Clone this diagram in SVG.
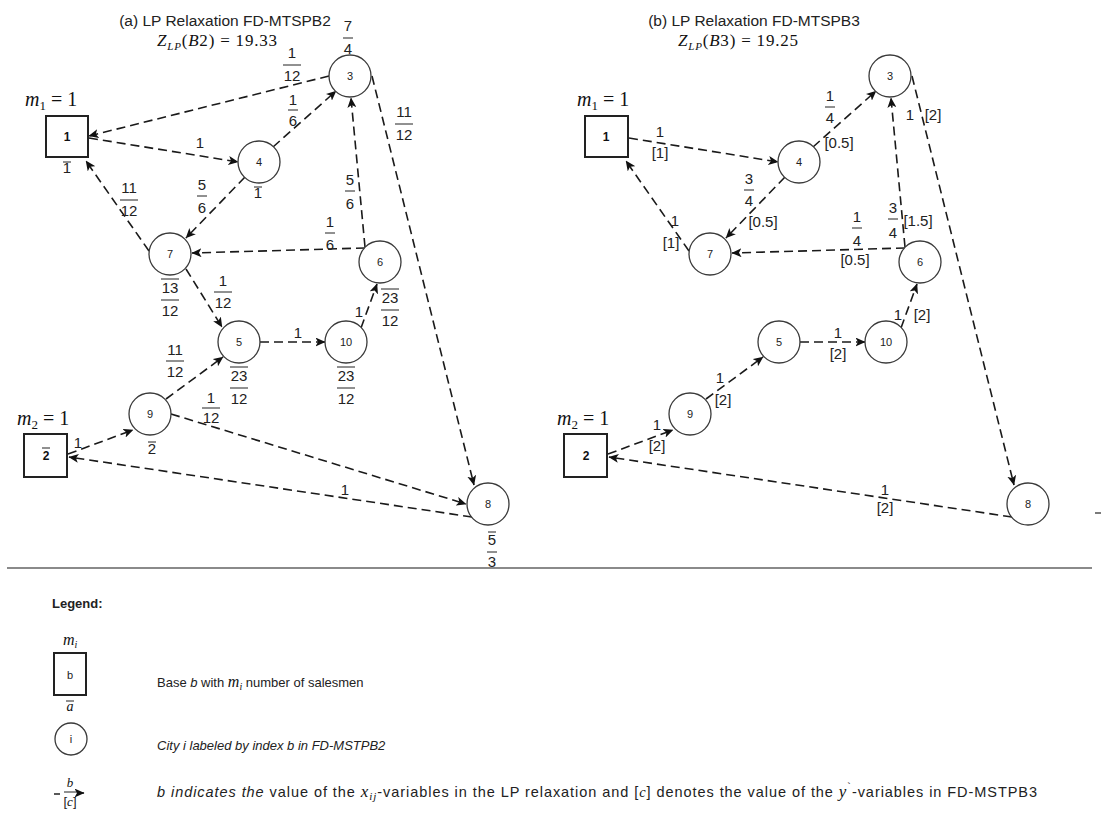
<svg xmlns="http://www.w3.org/2000/svg" width="1101" height="815" viewBox="0 0 1101 815">
<defs>
<marker id="arr" markerUnits="userSpaceOnUse" markerWidth="10" markerHeight="9" refX="9.5" refY="4.5" orient="auto">
<path d="M0,0 L10,4.5 L0,9 L2.5,4.5 z" fill="#111"/>
</marker>
<style>
.edge{fill:none;stroke:#1a1a1a;stroke-width:1.6;stroke-dasharray:9 5;marker-end:url(#arr)}
.city{fill:#fff;stroke:#3a3a3a;stroke-width:1.3}
.base{fill:#fff;stroke:#222;stroke-width:2}
.id{font-family:'Liberation Sans',Arial,sans-serif;font-size:11px;fill:#222;text-anchor:middle}
.bid{font-family:'Liberation Sans',Arial,sans-serif;font-size:12px;font-weight:bold;fill:#111;text-anchor:middle}
.v{font-family:'Liberation Sans',Arial,sans-serif;font-size:15px;fill:#222;text-anchor:middle}
.bar{stroke:#222;stroke-width:1}
.mt{font-family:'Liberation Serif','DejaVu Serif',serif;font-style:italic;fill:#111}
.up{font-style:normal}
.ttl{font-family:'Liberation Sans',Arial,sans-serif;font-size:15.5px;fill:#222;text-anchor:middle}
.lg{font-family:'Liberation Sans',Arial,sans-serif;font-size:13px;fill:#222}
.lg2{font-family:'Liberation Sans',Arial,sans-serif;font-size:14.5px;fill:#222}
.it{font-style:italic}
</style>
</defs>
<rect width="1101" height="815" fill="#fff"/>

<!-- ===== (a) LP relaxation, FD-MTSPB2 ===== -->
<g id="title-a">
<text class="ttl" x="225" y="26">(a) LP Relaxation FD-MTSPB2</text>
<text class="mt" x="157" y="46" font-size="17" letter-spacing="0.8">Z<tspan font-size="11" dy="4">LP</tspan><tspan dy="-4" class="up">(</tspan>B<tspan class="up">2) = 19.33</tspan></text>
</g>

<g id="a-connectors">
<path class="edge" d="M329,76 L89,136"/>
<path class="edge" d="M89,138 L238,162"/>
<path class="edge" d="M273,147 L336,91"/>
<path class="edge" d="M372,76 L474,485"/>
<path class="edge" d="M365,247 L351,98"/>
<path class="edge" d="M365,248 L192,253"/>
<path class="edge" d="M245,177 L186,238"/>
<path class="edge" d="M149,251 L86,161"/>
<path class="edge" d="M186,269 L222,327"/>
<path class="edge" d="M260,342 L325,342"/>
<path class="edge" d="M361,328 L377,284"/>
<path class="edge" d="M166,399 L223,357"/>
<path class="edge" d="M171,414 L466,504"/>
<path class="edge" d="M68,454 L133,430"/>
<path class="edge" d="M472,517 L69,457"/>
</g>

<g id="a-edge-labels">
<!-- 3 -> 1 -->
<text class="v" x="292" y="58">1</text><line class="bar" x1="283" y1="65" x2="301" y2="65"/><text class="v" x="292" y="81">12</text>
<!-- 1 -> 4 -->
<text class="v" x="200" y="148">1</text>
<!-- 4 -> 3 -->
<text class="v" x="293" y="105">1</text><line class="bar" x1="288" y1="110" x2="298" y2="110"/><text class="v" x="293" y="126">6</text>
<!-- 3 -> 8 -->
<text class="v" x="404" y="117">11</text><line class="bar" x1="395" y1="124" x2="413" y2="124"/><text class="v" x="404" y="140">12</text>
<!-- 6 -> 3 -->
<text class="v" x="350" y="185">5</text><line class="bar" x1="345" y1="191" x2="355" y2="191"/><text class="v" x="350" y="209">6</text>
<!-- 6 -> 7 -->
<text class="v" x="330" y="227">1</text><line class="bar" x1="325" y1="233" x2="335" y2="233"/><text class="v" x="330" y="250">6</text>
<!-- 4 -> 7 -->
<text class="v" x="202" y="190">5</text><line class="bar" x1="197" y1="196" x2="207" y2="196"/><text class="v" x="202" y="213">6</text>
<!-- 7 -> 1 -->
<text class="v" x="129" y="193">11</text><line class="bar" x1="120" y1="200" x2="138" y2="200"/><text class="v" x="129" y="216">12</text>
<!-- 7 -> 5 -->
<text class="v" x="223" y="286">1</text><line class="bar" x1="214" y1="292" x2="232" y2="292"/><text class="v" x="223" y="308">12</text>
<!-- 9 -> 5 -->
<text class="v" x="175" y="355">11</text><line class="bar" x1="166" y1="361" x2="184" y2="361"/><text class="v" x="175" y="377">12</text>
<!-- 5 -> 10 -->
<text class="v" x="298" y="338">1</text>
<!-- 10 -> 6 -->
<text class="v" x="359" y="317">1</text>
<!-- 9 -> 8 -->
<text class="v" x="211" y="403">1</text><line class="bar" x1="202" y1="408" x2="220" y2="408"/><text class="v" x="211" y="423">12</text>
<!-- 2 -> 9 -->
<text class="v" x="78" y="448">1</text>
<!-- 8 -> 2 -->
<text class="v" x="345" y="495">1</text>
</g>

<g id="a-base-1">
<text class="mt" x="25" y="106" font-size="20">m<tspan font-size="13" dy="4" class="up">1</tspan><tspan dy="-4" class="up"> = 1</tspan></text>
<rect class="base" x="46" y="116" width="42" height="41"/>
<text class="bid" x="67" y="141">1</text>
<text class="v" x="67" y="173">1</text><line class="bar" x1="63" y1="162" x2="71" y2="162"/>
</g>
<g id="a-base-2">
<text class="mt" x="17" y="425" font-size="20">m<tspan font-size="13" dy="4" class="up">2</tspan><tspan dy="-4" class="up"> = 1</tspan></text>
<rect class="base" x="24" y="434" width="43" height="43"/>
<text class="bid" x="46" y="460">2</text><line class="bar" x1="42" y1="448" x2="50" y2="448"/>
</g>
<g id="a-city-3">
<circle class="city" cx="350" cy="76" r="21"/><text class="id" x="350" y="80">3</text>
<text class="v" x="348" y="31">7</text><line class="bar" x1="343" y1="38" x2="353" y2="38"/><text class="v" x="348" y="54">4</text>
</g>
<g id="a-city-4">
<circle class="city" cx="259" cy="162" r="21"/><text class="id" x="259" y="166">4</text>
<text class="v" x="258" y="198">1</text><line class="bar" x1="254" y1="187" x2="262" y2="187"/>
</g>
<g id="a-city-7">
<circle class="city" cx="170" cy="254" r="21"/><text class="id" x="170" y="258">7</text>
<line class="bar" x1="161" y1="279" x2="179" y2="279"/>
<text class="v" x="170" y="293">13</text><line class="bar" x1="161" y1="300" x2="179" y2="300"/><text class="v" x="170" y="316">12</text>
</g>
<g id="a-city-6">
<circle class="city" cx="380" cy="262" r="21"/><text class="id" x="380" y="266">6</text>
<line class="bar" x1="381" y1="289" x2="399" y2="289"/>
<text class="v" x="390" y="303">23</text><line class="bar" x1="381" y1="310" x2="399" y2="310"/><text class="v" x="390" y="326">12</text>
</g>
<g id="a-city-5">
<circle class="city" cx="239" cy="342" r="21"/><text class="id" x="239" y="346">5</text>
<line class="bar" x1="230" y1="367" x2="248" y2="367"/>
<text class="v" x="239" y="381">23</text><line class="bar" x1="230" y1="388" x2="248" y2="388"/><text class="v" x="239" y="404">12</text>
</g>
<g id="a-city-10">
<circle class="city" cx="346" cy="342" r="21"/><text class="id" x="346" y="346">10</text>
<line class="bar" x1="337" y1="367" x2="355" y2="367"/>
<text class="v" x="346" y="381">23</text><line class="bar" x1="337" y1="388" x2="355" y2="388"/><text class="v" x="346" y="404">12</text>
</g>
<g id="a-city-9">
<circle class="city" cx="150" cy="414" r="21"/><text class="id" x="150" y="418">9</text>
<text class="v" x="152" y="454">2</text><line class="bar" x1="148" y1="442" x2="156" y2="442"/>
</g>
<g id="a-city-8">
<circle class="city" cx="488" cy="504" r="21"/><text class="id" x="488" y="508">8</text>
<line class="bar" x1="488" y1="532" x2="496" y2="532"/>
<text class="v" x="492" y="545">5</text><line class="bar" x1="487" y1="552" x2="497" y2="552"/><text class="v" x="492" y="567">3</text>
</g>

<!-- ===== (b) LP relaxation, FD-MTSPB3 ===== -->
<g id="title-b">
<text class="ttl" x="754" y="26">(b) LP Relaxation FD-MTSPB3</text>
<text class="mt" x="678" y="46" font-size="17" letter-spacing="0.8">Z<tspan font-size="11" dy="4">LP</tspan><tspan dy="-4" class="up">(</tspan>B<tspan class="up">3) = 19.25</tspan></text>
</g>

<g id="b-connectors">
<path class="edge" d="M629,138 L778,162"/>
<path class="edge" d="M813,147 L876,91"/>
<path class="edge" d="M912,76 L1014,485"/>
<path class="edge" d="M905,247 L891,98"/>
<path class="edge" d="M905,248 L732,253"/>
<path class="edge" d="M785,177 L726,238"/>
<path class="edge" d="M689,251 L626,161"/>
<path class="edge" d="M800,342 L865,342"/>
<path class="edge" d="M901,328 L917,284"/>
<path class="edge" d="M706,399 L763,357"/>
<path class="edge" d="M608,454 L673,430"/>
<path class="edge" d="M1012,517 L609,457"/>
</g>

<g id="b-edge-labels">
<!-- 1 -> 4 -->
<text class="v" x="660" y="137">1</text><text class="v" x="660" y="158">[1]</text>
<!-- 4 -> 3 -->
<text class="v" x="830" y="101">1</text><line class="bar" x1="825" y1="107" x2="835" y2="107"/><text class="v" x="830" y="123">4</text>
<text class="v" x="839" y="148">[0.5]</text>
<!-- 4 -> 7 -->
<text class="v" x="749" y="184">3</text><line class="bar" x1="744" y1="190" x2="754" y2="190"/><text class="v" x="749" y="206">4</text>
<text class="v" x="763" y="227">[0.5]</text>
<!-- 7 -> 1 -->
<text class="v" x="675" y="226">1</text><text class="v" x="671" y="248">[1]</text>
<!-- 6 -> 7 -->
<text class="v" x="857" y="222">1</text><line class="bar" x1="852" y1="228" x2="862" y2="228"/><text class="v" x="857" y="246">4</text>
<text class="v" x="855" y="265">[0.5]</text>
<!-- 6 -> 3 -->
<text class="v" x="893" y="213">3</text><line class="bar" x1="888" y1="219" x2="898" y2="219"/><text class="v" x="893" y="238">4</text>
<text class="v" x="918" y="226">[1.5]</text>
<!-- 5 -> 10 -->
<text class="v" x="838" y="338">1</text><text class="v" x="838" y="359">[2]</text>
<!-- 10 -> 6 -->
<text class="v" x="898" y="320">1</text><text class="v" x="922" y="320">[2]</text>
<!-- 9 -> 5 -->
<text class="v" x="720" y="383">1</text><text class="v" x="723" y="405">[2]</text>
<!-- 2 -> 9 -->
<text class="v" x="657" y="430">1</text><text class="v" x="657" y="451">[2]</text>
<!-- 3 -> 8 -->
<text class="v" x="910" y="120">1</text><text class="v" x="933" y="120">[2]</text>
<!-- 8 -> 2 -->
<text class="v" x="885" y="495">1</text><text class="v" x="885" y="513">[2]</text>
</g>

<g id="b-base-1">
<text class="mt" x="577" y="106" font-size="20">m<tspan font-size="13" dy="4" class="up">1</tspan><tspan dy="-4" class="up"> = 1</tspan></text>
<rect class="base" x="585" y="116" width="43" height="41"/>
<text class="bid" x="606" y="141">1</text>
</g>
<g id="b-base-2">
<text class="mt" x="557" y="425" font-size="20">m<tspan font-size="13" dy="4" class="up">2</tspan><tspan dy="-4" class="up"> = 1</tspan></text>
<rect class="base" x="564" y="434" width="43" height="43"/>
<text class="bid" x="586" y="460">2</text>
</g>
<g id="b-city-3"><circle class="city" cx="890" cy="76" r="21"/><text class="id" x="890" y="80">3</text></g>
<g id="b-city-4"><circle class="city" cx="799" cy="162" r="21"/><text class="id" x="799" y="166">4</text></g>
<g id="b-city-7"><circle class="city" cx="710" cy="254" r="21"/><text class="id" x="710" y="258">7</text></g>
<g id="b-city-6"><circle class="city" cx="920" cy="262" r="21"/><text class="id" x="920" y="266">6</text></g>
<g id="b-city-5"><circle class="city" cx="779" cy="342" r="21"/><text class="id" x="779" y="346">5</text></g>
<g id="b-city-10"><circle class="city" cx="886" cy="342" r="21"/><text class="id" x="886" y="346">10</text></g>
<g id="b-city-9"><circle class="city" cx="690" cy="414" r="21"/><text class="id" x="690" y="418">9</text></g>
<g id="b-city-8"><circle class="city" cx="1028" cy="504" r="21"/><text class="id" x="1028" y="508">8</text></g>

<!-- divider -->
<line x1="7" y1="568" x2="1092" y2="568" stroke="#8a8a8a" stroke-width="2"/>
<line x1="1095" y1="513" x2="1101" y2="513" stroke="#333" stroke-width="1.3"/>

<!-- ===== legend ===== -->
<g id="legend">
<text class="lg" x="52" y="608" font-weight="bold">Legend:</text>
<g id="legend-base">
<text class="mt" x="63" y="645" font-size="16">m<tspan font-size="10" dy="3">i</tspan></text>
<rect class="base" x="54" y="653" width="32" height="42"/>
<text class="id" x="70" y="679">b</text>
<text class="lg" x="157" y="687">Base <tspan class="it">b</tspan> with <tspan class="mt" font-size="16">m</tspan><tspan class="mt" font-size="10" dy="3">i</tspan><tspan dy="-3">  number of salesmen</tspan></text>
</g>
<g id="legend-city">
<text class="mt" x="70" y="711" font-size="14" text-anchor="middle">a</text><line class="bar" x1="66" y1="701" x2="74" y2="701"/>
<circle class="city" cx="71" cy="739" r="16"/>
<text class="id" x="71" y="743">i</text>
<text class="lg it" x="157" y="750">City i labeled by index b in FD-MSTPB2</text>
</g>
<g id="legend-arc">
<line x1="54" y1="794" x2="60" y2="794" stroke="#222" stroke-width="1.5"/>
<text class="mt" x="70" y="787" font-size="13" text-anchor="middle">b</text>
<line class="bar" x1="64" y1="792" x2="77" y2="792"/>
<text class="lg" x="70" y="806" text-anchor="middle">[<tspan class="mt">c</tspan>]</text>
<path d="M77,793 L84,793" stroke="#222" stroke-width="1.5" marker-end="url(#arr)"/>
<text class="lg2" x="157" y="797" textLength="880" lengthAdjust="spacing"><tspan class="it">b indicates the</tspan> value of the  <tspan class="mt" font-size="17">x</tspan><tspan class="mt" font-size="11" dy="3">ij</tspan><tspan dy="-3">-variables in the LP relaxation and [</tspan><tspan class="mt">c</tspan>] denotes the value of the  <tspan class="mt" font-size="17">y</tspan><tspan font-size="11" dy="-6">`</tspan><tspan dy="6">-variables in FD-MSTPB3</tspan></text>
</g>
</g>
</svg>
